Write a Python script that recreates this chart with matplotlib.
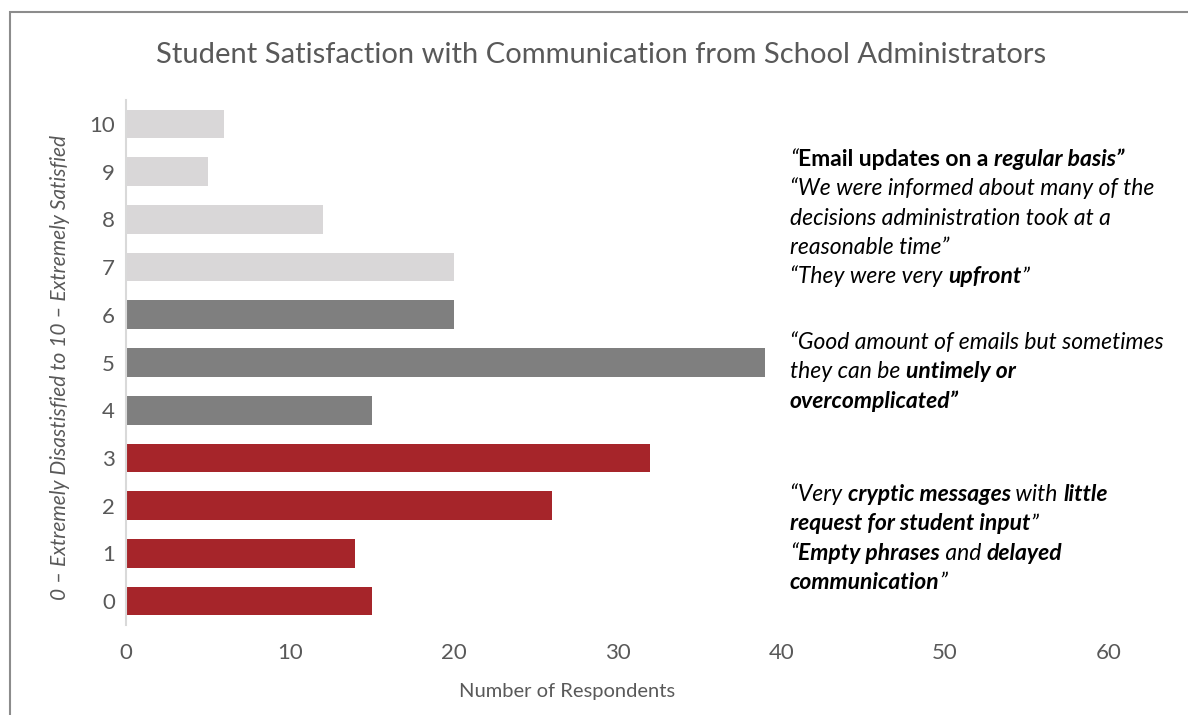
import matplotlib.pyplot as plt
from matplotlib.patches import Rectangle

plt.rcParams['font.family'] = ['Lato', 'DejaVu Sans']

scores = ['0', '1', '2', '3', '4', '5', '6', '7', '8', '9', '10']
respondents = [15, 14, 26, 32, 15, 39, 20, 20, 12, 5, 6]
bar_colors = ['#A6252A'] * 4 + ['#7F7F7F'] * 3 + ['#D9D7D8'] * 4

# quotes: one list per line, each piece is (text, weight, style)
quotes_top = [
    [('\u201c', 'normal', 'italic'), ('Email updates on a ', 'bold', 'normal'),
     ('regular basis\u201d', 'bold', 'italic')],
    [('\u201cWe were informed about many of the', 'normal', 'italic')],
    [('decisions administration took at a', 'normal', 'italic')],
    [('reasonable time\u201d', 'normal', 'italic')],
    [('\u201cThey were very ', 'normal', 'italic'), ('upfront', 'bold', 'italic'),
     ('\u201d', 'normal', 'italic')],
]
quotes_mid = [
    [('\u201cGood amount of emails but sometimes', 'normal', 'italic')],
    [('they can be ', 'normal', 'italic'), ('untimely or', 'bold', 'italic')],
    [('overcomplicated\u201d', 'bold', 'italic')],
]
quotes_low = [
    [('\u201cVery ', 'normal', 'italic'), ('cryptic messages', 'bold', 'italic'),
     (' with ', 'normal', 'italic'), ('little', 'bold', 'italic')],
    [('request for student input', 'bold', 'italic'), ('\u201d', 'normal', 'italic')],
    [('\u201c', 'normal', 'italic'), ('Empty phrases', 'bold', 'italic'),
     (' and ', 'normal', 'italic'), ('delayed', 'bold', 'italic')],
    [('communication', 'bold', 'italic'), ('\u201d', 'normal', 'italic')],
]

W, H = 1188, 715
fig = plt.figure(figsize=(W / 100, H / 100), dpi=100)
ax = fig.add_axes([126 / W, 1 - 625 / H, 983 / W, 525 / H])

ax.barh(range(len(scores)), respondents, height=0.6, color=bar_colors)
ax.set_ylim(-0.5, len(scores) - 0.5)
ax.set_xlim(0, 60)
ax.set_xticks(range(0, 61, 10))
ax.set_yticks(range(len(scores)))
ax.set_yticklabels(scores)
ax.tick_params(length=0, labelsize=16, colors='#595959')
ax.tick_params(axis='x', pad=13)
ax.tick_params(axis='y', pad=8)
for side in ['top', 'right', 'bottom']:
    ax.spines[side].set_visible(False)
ax.spines['left'].set_color('#D9D9D9')
ax.spines['left'].set_linewidth(1.5)

fig.text(601 / W, 1 - 55 / H, 'Student Satisfaction with Communication from School Administrators',
         ha='center', va='center', fontsize=21, color='#595959')
fig.text(60 / W, 1 - 368 / H, '0 \u2013 Extremely Disastisfied to 10 \u2013 Extremely Satisfied',
         rotation=90, ha='center', va='center', fontsize=15, style='italic', color='#595959')
fig.text(567 / W, 1 - 692 / H, 'Number of Respondents', ha='center', va='center',
         fontsize=14.5, color='#595959')

fig.patches.append(Rectangle((10 / W, -0.1), 1.2, 1.1 - 12 / H, transform=fig.transFigure,
                             fill=False, edgecolor='#8C8C8C', linewidth=1.5))

renderer = fig.canvas.get_renderer()


def draw_quote(lines, x0, y0, step=29.3, size=16.5):
    for i, pieces in enumerate(lines):
        x = x0
        y = H - (y0 + i * step)
        for text, weight, style in pieces:
            t = fig.text(x / W, y / H, text, ha='left', va='baseline', fontsize=size,
                         fontweight=weight, style=style, color='black')
            x += t.get_window_extent(renderer).width


draw_quote(quotes_top, 790, 166)
draw_quote(quotes_mid, 790, 349)
draw_quote(quotes_low, 790, 501)

fig.savefig('out.png', dpi=100)
